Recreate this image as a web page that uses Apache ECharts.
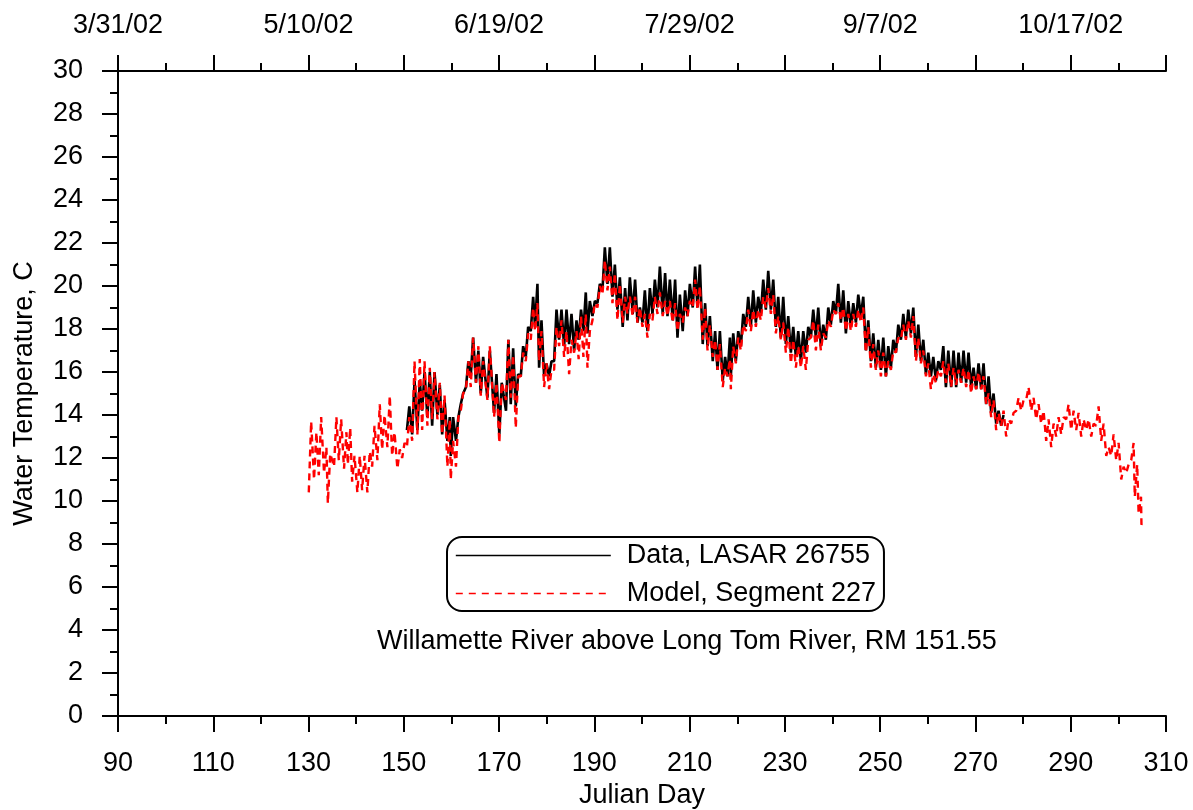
<!DOCTYPE html>
<html>
<head>
<meta charset="utf-8">
<script src="https://cdn.jsdelivr.net/npm/echarts@6/dist/echarts.min.js"></script>
<style>
  html, body { margin: 0; padding: 0; background: #fff; }
  #chart { width: 1193px; height: 810px; }
</style>
</head>
<body>
<div id="chart"></div>
<script>
// Julian day of each daily reading, with the daily low and high
const modelDay = [
  130.3, 131.4, 132.4, 133.5, 134.3, 135.6, 136.6, 137.7, 138.5, 139.4,
  140.5, 141.5, 142.6, 143.6, 144.7, 145.7, 146.8, 147.8, 148.9, 149.9,
  150.9, 152.0, 153.1, 154.1, 155.2, 156.2, 157.3, 158.3, 159.4, 160.1,
  161.2, 162.2, 163.3, 164.3, 165.4, 166.4, 167.8, 169.2, 170.3, 171.7,
  172.7, 173.75, 174.8, 175.85, 176.9, 177.8, 178.65, 179.7, 180.75, 181.8,
  182.85, 183.9, 184.95, 186.0, 186.95, 187.95, 188.8, 189.85, 190.9, 191.95,
  193.0, 194.05, 195.1, 196.2, 197.2, 198.3, 199.3, 200.35, 201.4, 202.45,
  203.5, 204.6, 205.6, 206.7, 207.7, 208.8, 209.8, 210.9, 211.9, 213.0,
  214.0, 215.1, 216.1, 217.2, 218.2,
  218.9, 219.95, 221.0, 222.05, 223.1, 224.15, 225.2, 226.25, 227.3, 228.35,
  229.4, 230.45, 231.5, 232.55, 233.6, 234.65, 235.7, 236.75, 237.8, 238.85,
  239.9, 240.95, 242.0, 243.05, 244.1, 245.15, 246.2, 247.25, 248.3, 249.35,
  250.4, 251.45, 252.5, 253.55, 254.6, 255.65, 256.7, 257.75, 258.8, 259.85,
  260.9, 261.95, 263.0, 264.05,
  265.15, 266.2, 267.25, 268.3, 269.35, 270.4, 271.45, 272.5, 273.55, 274.6,
  275.65, 276.7, 277.75, 278.8, 279.85, 280.9, 281.95, 283.0, 284.05, 285.1,
  286.15, 287.2, 288.25, 289.3, 290.35, 291.4, 292.45, 293.5, 294.55, 295.6,
  296.65, 297.7, 298.75, 299.8, 300.85, 301.9, 302.95, 303.7, 304.5, 305.1
];
const modelLow = [
  10.4, 11.0, 11.2, 11.3, 9.9, 11.6, 11.9, 11.5, 11.7, 10.9,
  10.4, 10.5, 10.4, 11.6, 11.9, 12.4, 12.5, 12.1, 11.5, 12.0,
  12.5, 12.8, 13.1, 13.3, 13.5, 13.8, 13.8, 13.1, 11.6, 11.0,
  11.6, 14.2, 15.2, 15.3, 15.5, 14.9, 14.7, 13.9, 12.7, 14.7,
  14.8, 13.4, 15.8, 16.5, 17.5, 17.9, 16.5, 15.3, 15.2, 16.1,
  17.2, 16.7, 15.9, 16.9, 16.6, 16.7, 16.2, 18.4, 19.0, 19.6,
  19.8, 19.2, 18.4, 18.3, 18.7, 18.6, 18.3, 18.1, 17.6, 18.4,
  18.7, 18.6, 18.6, 18.3, 17.9, 18.3, 18.6, 19.0, 18.9, 17.5,
  17.0, 16.7, 16.1, 15.3, 15.8,
  15.2, 16.4, 17.0, 17.9, 17.9, 18.1, 18.4, 19.0, 18.7, 17.8,
  17.5, 16.9, 16.4, 16.2, 16.2, 16.1, 17.6, 17.0, 17.0, 17.6,
  18.1, 18.7, 18.4, 17.9, 17.9, 18.1, 18.3, 16.9, 16.2, 16.1,
  15.8, 15.8, 16.1, 16.9, 17.5, 17.5, 17.6, 16.5, 16.4, 15.8,
  15.2, 15.5, 15.8, 15.5,
  15.3, 15.4, 15.5, 15.3, 15.0, 15.2, 15.2, 14.5, 13.9, 13.3,
  13.5, 13.0, 13.6, 14.2, 14.2, 14.7, 14.2, 13.8, 13.6, 12.8,
  12.5, 13.0, 13.1, 13.8, 13.3, 13.3, 13.0, 13.3, 13.0, 13.5,
  12.8, 12.1, 12.1, 11.9, 11.0, 11.3, 11.9, 10.2, 9.4, 8.9
];
const modelHigh = [
  13.7, 13.2, 13.9, 12.5, 12.2, 13.9, 13.8, 13.2, 13.4, 12.1,
  12.1, 12.1, 12.3, 13.5, 14.5, 14.0, 14.9, 13.2, 12.4, 12.7,
  13.9, 16.5, 16.6, 16.5, 16.2, 16.0, 15.5, 14.9, 13.8, 12.8,
  13.9, 15.0, 16.5, 17.6, 17.2, 16.5, 17.2, 15.5, 15.5, 17.5,
  16.8, 15.8, 16.9, 17.8, 19.0, 19.2, 17.9, 16.4, 16.1, 18.1,
  18.4, 17.9, 17.5, 17.9, 18.6, 18.7, 17.9, 19.2, 20.0, 21.2,
  20.9, 20.6, 20.1, 19.5, 19.5, 19.5, 19.0, 18.7, 18.7, 19.5,
  19.7, 19.3, 19.3, 19.2, 18.7, 19.0, 19.3, 20.3, 20.0, 19.0,
  18.2, 17.5, 17.3, 16.2, 16.6,
  17.2, 17.6, 18.2, 18.9, 18.9, 18.9, 19.5, 19.9, 19.6, 18.6,
  18.3, 18.1, 17.5, 17.2, 17.2, 17.5, 18.4, 18.2, 17.8, 18.4,
  18.9, 19.2, 19.0, 18.7, 18.7, 18.9, 19.0, 18.1, 17.3, 17.0,
  16.9, 16.5, 17.0, 17.6, 18.2, 18.4, 18.6, 17.6, 17.0, 16.4,
  15.9, 16.1, 16.5, 16.4,
  16.2, 16.1, 16.2, 16.1, 15.8, 16.0, 15.8, 15.0, 14.7, 14.1,
  14.2, 13.8, 14.1, 14.8, 14.7, 15.3, 14.8, 14.5, 14.2, 13.8,
  13.6, 13.9, 13.9, 14.5, 14.2, 14.1, 13.8, 13.8, 13.6, 14.4,
  13.6, 12.5, 13.1, 12.7, 11.6, 11.7, 12.7, 11.7, 10.2, 9.1
];

const dataDay = [
  150.9, 152.0, 153.1, 154.1, 155.2, 156.2, 157.3, 158.3, 159.4, 160.1,
  161.2, 162.2, 163.3, 164.3, 165.4, 166.4, 167.8, 169.2, 170.3, 171.7,
  172.7, 173.75, 174.8, 175.85, 176.9, 177.8, 178.65, 179.7, 180.75, 181.8,
  182.85, 183.9, 184.95, 186.0, 186.95, 187.95, 188.8, 189.85, 190.9, 191.95,
  193.0, 194.05, 195.1, 196.2, 197.2, 198.3, 199.3, 200.35, 201.4, 202.45,
  203.5, 204.6, 205.6, 206.7, 207.7, 208.8, 209.8, 210.9, 211.9, 213.0,
  214.0, 215.1, 216.1, 217.2, 218.2,
  218.9, 219.95, 221.0, 222.05, 223.1, 224.15, 225.2, 226.25, 227.3, 228.35,
  229.4, 230.45, 231.5, 232.55, 233.6, 234.65, 235.7, 236.75, 237.8, 238.85,
  239.9, 240.95, 242.0, 243.05, 244.1, 245.15, 246.2, 247.25, 248.3, 249.35,
  250.4, 251.45, 252.5, 253.55, 254.6, 255.65, 256.7, 257.75, 258.8, 259.85,
  260.9, 261.95, 263.0, 264.05,
  265.15, 266.2, 267.25, 268.3, 269.35, 270.4, 271.45, 272.5, 273.55, 274.6, 275.65
];
const dataLow = [
  13.3, 13.1, 13.3, 14.2, 13.9, 13.5, 14.0, 13.1, 12.8, 12.1,
  12.8, 14.5, 15.3, 15.8, 15.5, 15.0, 14.8, 14.1, 13.1, 14.2,
  14.5, 14.4, 15.8, 16.7, 17.9, 18.1, 16.2, 15.8, 15.8, 16.5,
  17.5, 17.2, 17.3, 17.0, 17.5, 17.9, 17.8, 18.6, 19.2, 19.8,
  20.1, 19.5, 18.9, 18.1, 18.4, 18.7, 18.3, 18.3, 17.9, 18.7,
  19.0, 18.7, 18.6, 18.4, 17.6, 17.9, 18.6, 19.0, 19.0, 17.3,
  17.2, 16.5, 16.1, 15.6, 15.8,
  15.8, 16.5, 17.2, 18.1, 18.1, 18.3, 18.7, 18.9, 18.9, 18.1,
  17.6, 17.3, 16.9, 16.7, 16.5, 16.9, 17.6, 17.6, 17.2, 17.5,
  18.2, 18.7, 18.3, 17.8, 18.1, 18.3, 18.6, 17.0, 16.5, 16.2,
  16.1, 15.8, 16.2, 16.9, 17.5, 17.6, 17.8, 16.7, 16.5, 15.9,
  15.8, 15.6, 16.1, 15.3,
  15.3, 15.3, 15.5, 15.5, 15.3, 15.2, 15.2, 14.5, 14.1, 13.6, 13.5
];
const dataHigh = [
  14.4, 15.6, 15.6, 16.0, 16.0, 16.0, 15.4, 14.7, 13.9, 13.9,
  13.9, 15.0, 16.5, 17.6, 17.0, 16.7, 17.0, 15.9, 15.5, 17.5,
  17.1, 15.9, 17.2, 18.1, 19.5, 20.1, 18.4, 16.4, 16.5, 18.9,
  18.9, 18.9, 18.7, 18.4, 18.9, 19.7, 19.3, 19.3, 20.1, 21.8,
  21.8, 21.0, 20.4, 19.9, 20.4, 20.3, 19.0, 19.8, 19.9, 20.3,
  20.9, 20.6, 20.3, 20.3, 19.6, 19.8, 20.1, 20.9, 21.0, 19.2,
  18.6, 17.9, 17.9, 16.7, 17.6,
  17.8, 17.9, 18.7, 19.5, 19.8, 19.5, 20.3, 20.7, 20.3, 19.5,
  19.5, 18.6, 18.1, 17.9, 17.9, 18.1, 18.9, 19.0, 18.2, 19.0,
  19.3, 20.1, 19.8, 19.3, 19.2, 19.6, 19.5, 18.4, 17.8, 17.5,
  17.6, 17.2, 17.5, 18.2, 18.7, 18.9, 19.0, 18.2, 17.5, 16.9,
  16.7, 16.5, 17.2, 17.0,
  17.0, 16.9, 17.0, 16.9, 16.2, 16.4, 16.4, 15.8, 15.0, 14.2, 14.0
];

// top axis: calendar dates for some julian days
const dateTicks = [90, 130, 170, 210, 250, 290];
const dateLabels = ['3/31/02', '5/10/02', '6/19/02', '7/29/02', '9/7/02', '10/17/02'];

const FONT = "'Liberation Sans', Arial, sans-serif";

// each day drawn as a low (morning) then a high (afternoon)
function dailyCycle(days, low, high) {
  const pts = [];
  days.forEach((d, i) => {
    pts.push([d - 0.25, low[i]]);
    pts.push([d + 0.25, high[i]]);
  });
  return pts;
}

const axisLine = { show: true, onZero: false, lineStyle: { color: '#000', width: 2 } };
const tick = { show: true, inside: false, length: 16, lineStyle: { color: '#000', width: 2 } };
const minor = { show: true, splitNumber: 2, length: 8, lineStyle: { color: '#000', width: 2 } };
const label = { color: '#000', fontSize: 27, fontFamily: FONT };

const chart = echarts.init(document.getElementById('chart'), null, { renderer: 'canvas' });

chart.setOption({
  animation: false,
  backgroundColor: '#fff',
  grid: { left: 118, right: 27, top: 71, bottom: 94, outerBoundsMode: 'none' },
  title: {
    text: 'Willamette River above Long Tom River, RM 151.55',
    left: 377, top: 628, padding: 0,
    textStyle: { fontSize: 27, fontWeight: 'normal', color: '#000', fontFamily: FONT }
  },
  legend: {
    orient: 'vertical', left: 447, top: 537,
    padding: [5, 8, 4, 8], itemGap: 11, itemWidth: 155, itemHeight: 14,
    borderColor: '#000', borderWidth: 2, borderRadius: 15,
    textStyle: { fontSize: 27, color: '#000', fontFamily: FONT, padding: [0, 0, 0, 11] },
    itemStyle: { opacity: 0 },
    data: [
      { name: 'Data, LASAR 26755', lineStyle: { width: 1.6 } },
      { name: 'Model, Segment 227', lineStyle: { width: 1.6, type: [7, 6] } }
    ]
  },
  xAxis: [
    {
      type: 'value', position: 'bottom', min: 90, max: 310, interval: 20,
      name: 'Julian Day', nameLocation: 'middle', nameGap: 65,
      nameTextStyle: label,
      axisLine: axisLine, axisTick: tick, minorTick: minor,
      axisLabel: Object.assign({ margin: 34 }, label),
      splitLine: { show: false }
    },
    {
      type: 'value', position: 'top', min: 90, max: 310, interval: 20,
      axisLine: axisLine, axisTick: tick, minorTick: minor,
      axisLabel: Object.assign({
        margin: 32,
        formatter: v => {
          const i = dateTicks.indexOf(v);
          return i >= 0 ? dateLabels[i] : '';
        }
      }, label),
      splitLine: { show: false }
    }
  ],
  yAxis: {
    type: 'value', min: 0, max: 30, interval: 2,
    name: 'Water Temperature, C', nameLocation: 'middle', nameGap: 80,
    nameTextStyle: label,
    axisLine: axisLine, axisTick: tick, minorTick: minor,
    axisLabel: Object.assign({ margin: 35 }, label),
    splitLine: { show: false }
  },
  series: [
    {
      name: 'Data, LASAR 26755', type: 'line', xAxisIndex: 0,
      symbol: 'none', showSymbol: false,
      lineStyle: { color: '#000', width: 2.6 },
      itemStyle: { color: '#000' },
      data: dailyCycle(dataDay, dataLow, dataHigh)
    },
    {
      name: 'Model, Segment 227', type: 'line', xAxisIndex: 0,
      symbol: 'none', showSymbol: false,
      lineStyle: { color: '#ff0000', width: 2.4, type: [7, 5] },
      itemStyle: { color: '#ff0000' },
      data: dailyCycle(modelDay, modelLow, modelHigh)
    }
  ]
});
</script>
</body>
</html>
